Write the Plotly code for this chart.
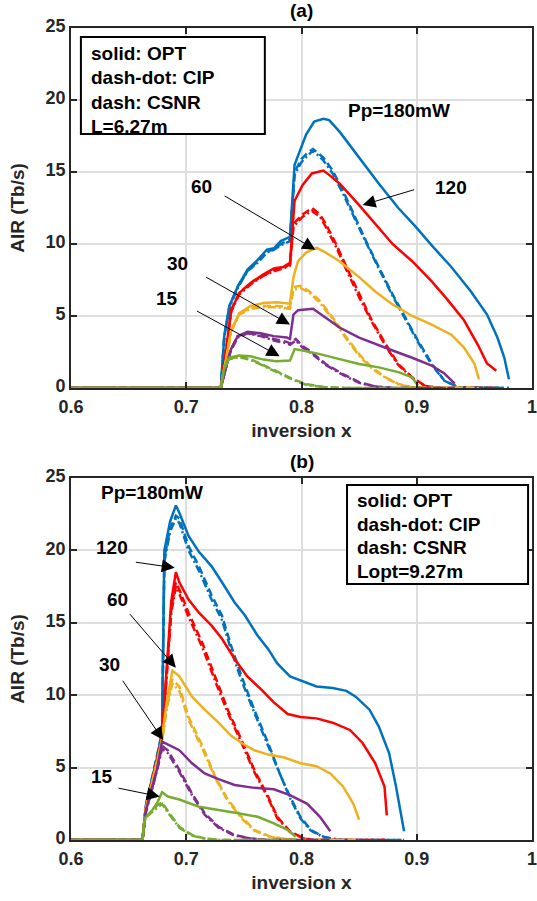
import plotly.graph_objects as go

# ---------------- panel (a): L = 6.27 m ----------------
A180_OPT_X = [0.600, 0.730, 0.733, 0.7375, 0.745, 0.753, 0.762, 0.770, 0.776, 0.782, 0.790, 0.794, 0.804, 0.811, 0.819, 0.824, 0.833, 0.850, 0.867, 0.884, 0.899, 0.913, 0.930, 0.947, 0.961, 0.970, 0.976, 0.980]
A180_OPT_Y = [0, 0, 3.6, 5.7, 7.1, 8.2, 8.9, 9.6, 9.7, 10.2, 10.5, 15.5, 17.6, 18.5, 18.7, 18.6, 17.8, 16.0, 14.2, 12.5, 11.2, 9.9, 8.4, 6.7, 5.1, 3.5, 2.1, 0.6]
A180_DASH_X = [0.600, 0.730, 0.733, 0.7375, 0.745, 0.753, 0.762, 0.770, 0.776, 0.782, 0.790, 0.794, 0.800, 0.806, 0.810, 0.819, 0.827, 0.836, 0.844, 0.856, 0.867, 0.879, 0.890, 0.901, 0.913, 0.924, 0.936, 0.980]
A180_CSNR = [0, 0, 3.6, 5.7, 7.1, 8.1, 8.8, 9.5, 9.6, 10.0, 10.3, 15.0, 15.9, 16.4, 16.6, 16.0, 15.1, 13.7, 12.3, 10.2, 8.4, 6.5, 4.9, 3.3, 1.7, 0.5, 0.05, 0]
A180_CIP = [0, 0, 3.5, 5.6, 7.0, 8.1, 8.7, 9.4, 9.6, 9.9, 10.2, 14.8, 15.7, 16.2, 16.5, 15.8, 14.9, 13.5, 12.1, 10.1, 8.3, 6.4, 4.8, 3.2, 1.6, 0.5, 0.05, 0]

A120_OPT_X = [0.600, 0.730, 0.735, 0.739, 0.746, 0.756, 0.767, 0.776, 0.784, 0.790, 0.794, 0.801, 0.809, 0.819, 0.824, 0.833, 0.850, 0.864, 0.879, 0.896, 0.913, 0.927, 0.941, 0.953, 0.961, 0.969]
A120_OPT_Y = [0, 0, 2.9, 5.4, 6.6, 7.3, 7.9, 8.3, 8.4, 8.7, 13.0, 14.1, 14.9, 15.1, 14.8, 14.2, 12.7, 11.4, 10.0, 8.8, 7.4, 6.1, 4.7, 3.0, 1.7, 1.2]
A120_DASH_X = [0.600, 0.730, 0.735, 0.739, 0.746, 0.756, 0.767, 0.776, 0.784, 0.790, 0.793, 0.801, 0.809, 0.816, 0.821, 0.830, 0.839, 0.850, 0.861, 0.873, 0.884, 0.896, 0.907, 0.919, 0.969]
A120_CSNR = [0, 0, 2.9, 5.4, 6.6, 7.3, 7.8, 8.2, 8.3, 8.6, 11.4, 12.05, 12.5, 12.05, 11.4, 10.0, 8.4, 6.5, 4.7, 3.05, 1.66, 0.74, 0.16, 0, 0]
A120_CIP = [0, 0, 2.8, 5.3, 6.5, 7.2, 7.8, 8.1, 8.3, 8.5, 11.2, 11.9, 12.3, 11.9, 11.2, 9.8, 8.2, 6.3, 4.6, 2.9, 1.6, 0.7, 0.15, 0, 0]

A60_OPT_X = [0.600, 0.730, 0.735, 0.739, 0.746, 0.756, 0.767, 0.779, 0.790, 0.793, 0.797, 0.804, 0.813, 0.821, 0.833, 0.850, 0.864, 0.879, 0.896, 0.913, 0.930, 0.941, 0.950, 0.954]
A60_OPT_Y = [0, 0, 2.2, 4.05, 5.2, 5.7, 5.9, 5.95, 5.85, 7.7, 8.8, 9.4, 9.75, 9.4, 8.8, 7.7, 6.7, 5.8, 5.0, 4.4, 3.7, 2.8, 1.7, 0.6]
A60_DASH_X = [0.600, 0.730, 0.735, 0.739, 0.746, 0.756, 0.767, 0.779, 0.790, 0.793, 0.799, 0.807, 0.816, 0.827, 0.839, 0.850, 0.861, 0.873, 0.884, 0.896, 0.954]
A60_CSNR = [0, 0, 2.2, 4.0, 5.1, 5.6, 5.7, 5.7, 5.6, 7.0, 7.1, 6.7, 6.05, 4.9, 3.5, 2.35, 1.43, 0.74, 0.28, 0.05, 0]
A60_CIP = [0, 0, 2.1, 3.9, 5.1, 5.5, 5.6, 5.6, 5.5, 6.8, 6.95, 6.6, 5.9, 4.8, 3.4, 2.25, 1.35, 0.7, 0.25, 0.05, 0]

A30_OPT_X = [0.600, 0.730, 0.7347, 0.7389, 0.7446, 0.7531, 0.7645, 0.7759, 0.7872, 0.790, 0.793, 0.797, 0.810, 0.821, 0.833, 0.850, 0.864, 0.879, 0.896, 0.913, 0.924, 0.933]
A30_OPT_Y = [0, 0, 1.5, 2.7, 3.6, 3.9, 3.8, 3.6, 3.5, 3.4, 5.1, 5.4, 5.5, 4.9, 4.2, 3.5, 3.05, 2.6, 2.1, 1.55, 1.0, 0.3]
A30_DASH_X = [0.600, 0.730, 0.7347, 0.7389, 0.7446, 0.7531, 0.7645, 0.7759, 0.7872, 0.790, 0.795, 0.801, 0.807, 0.821, 0.836, 0.850, 0.864, 0.879, 0.933]
A30_CSNR = [0, 0, 1.5, 2.7, 3.6, 3.8, 3.7, 3.4, 3.2, 3.1, 3.4, 2.9, 2.6, 1.66, 0.97, 0.4, 0.1, 0, 0]
A30_CIP = [0, 0, 1.5, 2.6, 3.5, 3.8, 3.6, 3.3, 3.1, 3.0, 3.3, 2.8, 2.5, 1.6, 0.9, 0.35, 0.1, 0, 0]

A15_OPT_X = [0.600, 0.730, 0.7327, 0.737, 0.7457, 0.7557, 0.767, 0.778, 0.790, 0.794, 0.801, 0.816, 0.833, 0.850, 0.867, 0.884, 0.896, 0.901]
A15_OPT_Y = [0, 0, 1.3, 2.1, 2.25, 2.2, 1.97, 1.85, 1.9, 2.7, 2.6, 2.35, 2.0, 1.66, 1.43, 1.1, 0.74, 0.16]
A15_DASH_X = [0.600, 0.730, 0.7327, 0.737, 0.7457, 0.7557, 0.764, 0.775, 0.785, 0.793, 0.805, 0.821, 0.840, 0.901]
A15_CSNR = [0, 0, 1.3, 2.0, 2.2, 2.0, 1.7, 1.3, 0.9, 0.6, 0.25, 0.05, 0, 0]
A15_CIP = [0, 0, 1.3, 2.0, 2.15, 1.95, 1.65, 1.25, 0.85, 0.55, 0.2, 0.05, 0, 0]

# ---------------- panel (b): Lopt = 9.27 m ----------------
B180_OPT_X = [0.600, 0.662, 0.665, 0.670, 0.675, 0.679, 0.681, 0.686, 0.691, 0.694, 0.702, 0.711, 0.722, 0.731, 0.742, 0.751, 0.762, 0.771, 0.779, 0.790, 0.800, 0.813, 0.827, 0.839, 0.847, 0.859, 0.867, 0.876, 0.882, 0.887, 0.889]
B180_OPT_Y = [0, 0, 2.4, 4.2, 5.8, 7.5, 20.0, 22.0, 23.1, 22.6, 21.0, 19.9, 18.9, 17.8, 16.4, 15.5, 14.1, 13.2, 12.2, 11.3, 11.0, 10.6, 10.5, 10.3, 9.9, 9.0, 7.85, 6.0, 3.7, 1.6, 0.6]
B180_DASH_X = [0.600, 0.662, 0.665, 0.670, 0.675, 0.679, 0.681, 0.686, 0.691, 0.694, 0.702, 0.711, 0.722, 0.731, 0.739, 0.748, 0.759, 0.771, 0.782, 0.790, 0.799, 0.808, 0.819, 0.830, 0.840, 0.889]
B180_CSNR = [0, 0, 2.4, 4.2, 5.8, 7.4, 19.5, 21.5, 22.4, 22.2, 20.3, 18.9, 16.9, 15.5, 13.4, 11.3, 9.0, 6.7, 4.4, 3.0, 1.6, 0.7, 0.23, 0.05, 0, 0]
B180_CIP = [0, 0, 2.3, 4.1, 5.7, 7.3, 19.2, 21.3, 22.2, 21.9, 20.0, 18.6, 16.6, 15.2, 13.1, 11.0, 8.8, 6.5, 4.3, 2.9, 1.5, 0.65, 0.2, 0.05, 0, 0]

B120_OPT_X = [0.600, 0.662, 0.665, 0.670, 0.675, 0.679, 0.683, 0.687, 0.691, 0.694, 0.702, 0.711, 0.722, 0.731, 0.742, 0.753, 0.765, 0.776, 0.788, 0.799, 0.813, 0.827, 0.842, 0.853, 0.864, 0.872, 0.874]
B120_OPT_Y = [0, 0, 2.3, 4.0, 5.6, 7.2, 12.0, 16.5, 18.5, 17.8, 16.6, 15.7, 14.8, 13.9, 12.5, 11.3, 10.4, 9.5, 8.7, 8.5, 8.4, 8.1, 7.6, 6.7, 5.3, 3.7, 1.7]
B120_DASH_X = [0.600, 0.662, 0.665, 0.670, 0.675, 0.679, 0.683, 0.687, 0.691, 0.694, 0.702, 0.714, 0.725, 0.736, 0.748, 0.759, 0.771, 0.779, 0.790, 0.802, 0.812, 0.874]
B120_CSNR = [0, 0, 2.3, 4.0, 5.6, 7.1, 11.5, 16.0, 17.8, 17.3, 15.7, 13.6, 11.3, 9.0, 6.9, 4.85, 3.0, 1.6, 0.6, 0.1, 0, 0]
B120_CIP = [0, 0, 2.2, 3.9, 5.5, 7.0, 11.2, 15.7, 17.5, 17.0, 15.4, 13.3, 11.0, 8.8, 6.7, 4.7, 2.9, 1.5, 0.55, 0.1, 0, 0]

B60_OPT_X = [0.600, 0.662, 0.665, 0.670, 0.675, 0.679, 0.683, 0.688, 0.694, 0.705, 0.716, 0.728, 0.739, 0.748, 0.759, 0.771, 0.785, 0.799, 0.813, 0.825, 0.836, 0.845, 0.850]
B60_OPT_Y = [0, 0, 2.2, 3.8, 5.5, 7.0, 9.5, 11.7, 11.3, 9.9, 9.0, 8.1, 7.2, 6.7, 6.2, 5.9, 5.7, 5.3, 5.1, 4.6, 3.7, 2.5, 1.4]
B60_DASH_X = [0.600, 0.662, 0.665, 0.670, 0.675, 0.679, 0.683, 0.688, 0.694, 0.702, 0.714, 0.725, 0.736, 0.748, 0.759, 0.773, 0.788, 0.800, 0.850]
B60_CSNR = [0, 0, 2.2, 3.8, 5.5, 6.9, 9.2, 11.1, 10.6, 8.5, 6.5, 4.4, 2.8, 1.6, 0.7, 0.23, 0.05, 0, 0]
B60_CIP = [0, 0, 2.1, 3.7, 5.4, 6.8, 9.0, 10.8, 10.3, 8.3, 6.3, 4.3, 2.7, 1.5, 0.65, 0.2, 0.05, 0, 0]

B30_OPT_X = [0.600, 0.662, 0.665, 0.670, 0.675, 0.679, 0.684, 0.694, 0.705, 0.716, 0.728, 0.742, 0.759, 0.776, 0.790, 0.805, 0.816, 0.825]
B30_OPT_Y = [0, 0, 2.0, 3.5, 5.0, 6.8, 6.6, 6.2, 5.3, 4.6, 4.2, 3.8, 3.6, 3.5, 3.1, 2.5, 1.6, 0.6]
B30_DASH_X = [0.600, 0.662, 0.665, 0.670, 0.675, 0.679, 0.684, 0.694, 0.705, 0.716, 0.728, 0.742, 0.756, 0.770, 0.825]
B30_CSNR = [0, 0, 2.0, 3.5, 5.0, 6.5, 6.2, 4.85, 3.2, 1.85, 0.9, 0.35, 0.1, 0, 0]
B30_CIP = [0, 0, 1.9, 3.4, 4.9, 6.3, 6.0, 4.7, 3.1, 1.75, 0.85, 0.3, 0.1, 0, 0]

B15_OPT_X = [0.600, 0.662, 0.664, 0.670, 0.675, 0.679, 0.684, 0.694, 0.711, 0.728, 0.745, 0.762, 0.776, 0.788, 0.795]
B15_OPT_Y = [0, 0, 1.5, 2.0, 2.6, 3.3, 3.0, 2.8, 2.3, 2.1, 1.85, 1.6, 1.15, 0.7, 0.23]
B15_DASH_X = [0.600, 0.662, 0.664, 0.670, 0.675, 0.679, 0.684, 0.694, 0.705, 0.716, 0.730, 0.795]
B15_CSNR = [0, 0, 1.5, 2.0, 2.4, 2.6, 2.0, 0.9, 0.35, 0.1, 0, 0]
B15_CIP = [0, 0, 1.5, 1.9, 2.3, 2.5, 1.9, 0.85, 0.3, 0.1, 0, 0]

PUMP_POWERS = ["180", "120", "60", "30", "15"]
COLORS = {"180": "#0072BD", "120": "#FF0000", "60": "#EDB120", "30": "#7E2F8E", "15": "#77AC30"}

X_TICKS = [0.6, 0.7, 0.8, 0.9, 1.0]
X_TICK_TEXT = ["0.6", "0.7", "0.8", "0.9", "1"]
Y_TICKS = [0, 5, 10, 15, 20, 25]

PANEL_A = {
    "180": (A180_OPT_X, A180_OPT_Y, A180_DASH_X, A180_CIP, A180_CSNR),
    "120": (A120_OPT_X, A120_OPT_Y, A120_DASH_X, A120_CIP, A120_CSNR),
    "60": (A60_OPT_X, A60_OPT_Y, A60_DASH_X, A60_CIP, A60_CSNR),
    "30": (A30_OPT_X, A30_OPT_Y, A30_DASH_X, A30_CIP, A30_CSNR),
    "15": (A15_OPT_X, A15_OPT_Y, A15_DASH_X, A15_CIP, A15_CSNR),
}
PANEL_B = {
    "180": (B180_OPT_X, B180_OPT_Y, B180_DASH_X, B180_CIP, B180_CSNR),
    "120": (B120_OPT_X, B120_OPT_Y, B120_DASH_X, B120_CIP, B120_CSNR),
    "60": (B60_OPT_X, B60_OPT_Y, B60_DASH_X, B60_CIP, B60_CSNR),
    "30": (B30_OPT_X, B30_OPT_Y, B30_DASH_X, B30_CIP, B30_CSNR),
    "15": (B15_OPT_X, B15_OPT_Y, B15_DASH_X, B15_CIP, B15_CSNR),
}

FONT = "Liberation Sans, Arial, Helvetica, sans-serif"
AX_COLOR = "#262626"
LW = 2.5
FS = 19
TICK_FS = 18

fig = go.Figure()


def add_panel(panel, xa, ya):
    for p in PUMP_POWERS:
        ox, oy, dx, cip, csnr = panel[p]
        assert len(ox) == len(oy) and len(dx) == len(cip) == len(csnr)
        c = COLORS[p]
        fig.add_trace(go.Scatter(x=ox, y=oy, mode="lines", xaxis=xa, yaxis=ya,
                                 line=dict(color=c, width=LW), showlegend=False))
        fig.add_trace(go.Scatter(x=dx, y=cip, mode="lines", xaxis=xa, yaxis=ya,
                                 line=dict(color=c, width=LW, dash="8px,3px,2px,3px"),
                                 showlegend=False))
        fig.add_trace(go.Scatter(x=dx, y=csnr, mode="lines", xaxis=xa, yaxis=ya,
                                 line=dict(color=c, width=LW, dash="8px,4px"),
                                 showlegend=False))


add_panel(PANEL_A, "x", "y")
add_panel(PANEL_B, "x2", "y2")

axis_common = dict(
    showline=True, linecolor=AX_COLOR, linewidth=1.6, mirror="ticks",
    ticks="inside", ticklen=6, tickwidth=1.5, tickcolor=AX_COLOR,
    showgrid=True, gridcolor="#dedede", gridwidth=1.5, zeroline=False,
    tickfont=dict(family=FONT, size=TICK_FS, color=AX_COLOR, weight="bold"),
    ticklabeloverflow="allow",
)
xaxis_common = dict(axis_common, range=[0.6, 1.0], tickvals=X_TICKS, ticktext=X_TICK_TEXT,
                    ticklabelstandoff=2,
                    title=dict(text="inversion x", font=dict(family=FONT, size=FS, color=AX_COLOR, weight="bold"), standoff=7))
yaxis_common = dict(axis_common, range=[0, 25], tickvals=Y_TICKS, ticklabelshift=-2,
                    title=dict(text="AIR (Tb/s)", font=dict(family=FONT, size=FS, color=AX_COLOR, weight="bold"), standoff=16))

fig.update_layout(
    width=537, height=901,
    margin=dict(l=71, r=0, t=28, b=61),
    paper_bgcolor="white", plot_bgcolor="white",
    xaxis=dict(xaxis_common, domain=[0, 1], anchor="y"),
    yaxis=dict(yaxis_common, domain=[0.5567, 1.0], anchor="x"),
    xaxis2=dict(xaxis_common, domain=[0, 1], anchor="y2"),
    yaxis2=dict(yaxis_common, domain=[0.0, 0.4458], anchor="x2"),
)

annotations = []
shapes = []


def text(xref, yref, x, y, s, size=FS, xanchor="center"):
    annotations.append(dict(xref=xref, yref=yref, x=x, y=y, text=s, showarrow=False,
                            xanchor=xanchor, yanchor="middle",
                            font=dict(family=FONT, size=size, color="black", weight="bold")))


def arrow(xref, yref, tail, head):
    annotations.append(dict(xref=xref, yref=yref, axref=xref, ayref=yref,
                            x=head[0], y=head[1], ax=tail[0], ay=tail[1], text="",
                            showarrow=True, arrowhead=2, arrowsize=2.6, arrowwidth=1,
                            arrowcolor="black", standoff=0, startstandoff=0))


def box(xref, yref, x0, x1, y0, y1):
    shapes.append(dict(type="rect", xref=xref, yref=yref, x0=x0, x1=x1, y0=y0, y1=y1,
                       line=dict(color="black", width=2), fillcolor="white", layer="above"))


# panel titles
text("paper", "paper", 0.5, 1.022, "(a)")
text("paper", "paper", 0.5, 0.4667, "(b)")

# panel (a) annotations
box("x", "y", 0.6086, 0.7682, 17.64, 24.375)
for s, yy in zip(["solid: OPT", "dash-dot: CIP", "dash: CSNR", "L=6.27m"], [23.26, 21.53, 19.86, 18.19]):
    text("x", "y", 0.6155, yy, s, xanchor="left")
text("x", "y", 0.885, 19.3, "Pp=180mW")
text("x", "y", 0.9296, 13.9, "120")
arrow("x", "y", (0.899, 13.8), (0.853, 12.7))
text("x", "y", 0.7133, 14.0, "60")
arrow("x", "y", (0.732, 13.4), (0.812, 9.6))
text("x", "y", 0.6927, 8.66, "30")
arrow("x", "y", (0.716, 7.75), (0.790, 4.4))
text("x", "y", 0.6835, 6.23, "15")
arrow("x", "y", (0.708, 5.4), (0.781, 2.2))

# panel (b) annotations
box("x2", "y2", 0.8395, 0.9966, 17.68, 24.52)
for s, yy in zip(["solid: OPT", "dash-dot: CIP", "dash: CSNR", "Lopt=9.27m"], [23.48, 21.82, 20.17, 18.51]):
    text("x2", "y2", 0.8464, yy, s, xanchor="left")
text("x2", "y2", 0.6704, 24.0, "Pp=180mW")
text("x2", "y2", 0.6352, 20.2, "120")
arrow("x2", "y2", (0.655, 19.2), (0.690, 18.8))
text("x2", "y2", 0.6403, 16.6, "60")
arrow("x2", "y2", (0.650, 15.7), (0.691, 11.9))
text("x2", "y2", 0.6335, 12.1, "30")
arrow("x2", "y2", (0.644, 11.1), (0.680, 6.9))
text("x2", "y2", 0.6266, 4.42, "15")
arrow("x2", "y2", (0.640, 3.6), (0.677, 3.0))

fig.update_layout(annotations=annotations, shapes=shapes)

fig.write_html("out.html")
